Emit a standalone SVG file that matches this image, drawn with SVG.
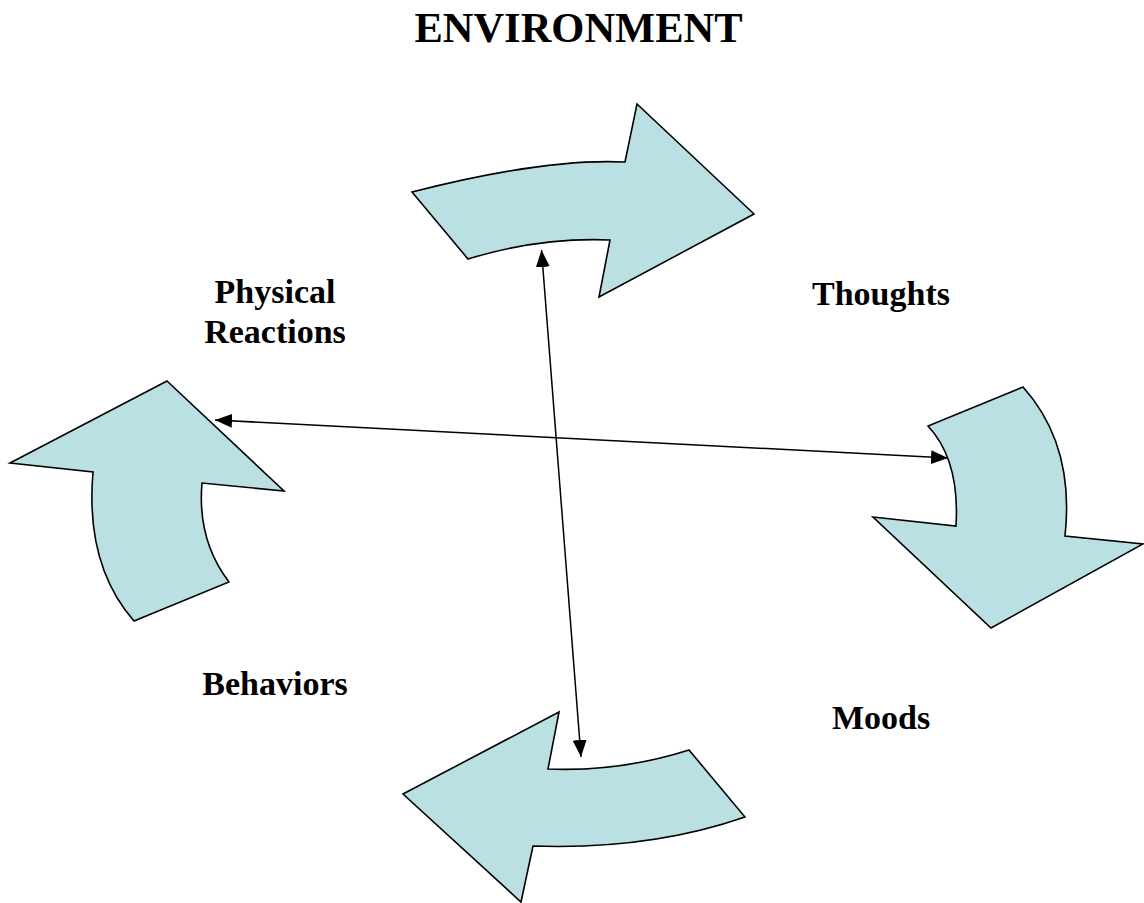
<svg xmlns="http://www.w3.org/2000/svg" width="1144" height="903" viewBox="0 0 1144 903">
<style>
.shape{fill:#BAE0E3;stroke:#000;stroke-width:1.6;stroke-linejoin:miter}
.lbl{font-family:"Liberation Serif","Times New Roman",serif;font-weight:bold;font-size:34px;fill:#000;text-anchor:middle}
.title{font-size:42.5px}
.conn{stroke:#000;stroke-width:1.5;fill:none}
</style>
<defs>
<marker id="ah2" viewBox="0 0 17 14" refX="17" refY="7" markerWidth="17" markerHeight="14" markerUnits="userSpaceOnUse" orient="auto-start-reverse">
<path d="M0,0 L17,7 L0,14 Z" fill="#000"/>
</marker>
</defs>
<rect width="1144" height="903" fill="#fff"/>
<text id="title" class="lbl title" x="578.5" y="42">ENVIRONMENT</text>
<g id="arrow-top"><path class="shape" d="M412,192 Q545,158 625,162 L637,104 L754,214 L599,297 L610,240 Q540,237 468,259 Z"/></g>
<g id="arrow-right"><path class="shape" d="M1023,387 Q1075,445 1065,536 L1143,544 L991,628 L873,517 L956,526 Q960,460 928,426 Z"/></g>
<g id="arrow-bottom"><path class="shape" d="M559,712 L548,769 Q620,772 689,750 L745,817 Q650,850 533,846 L521,902 L403,794 Z"/></g>
<g id="arrow-left"><path class="shape" d="M167,381 L284,491 L202,483 Q197,540 229,582 L134,621 Q85,565 93,472 L10,463 Z"/></g>
<g id="label-physical"><text class="lbl" x="275" y="303">Physical</text><text class="lbl" x="275" y="343">Reactions</text></g>
<g id="label-thoughts"><text class="lbl" x="881" y="305">Thoughts</text></g>
<g id="label-behaviors"><text class="lbl" x="275" y="695">Behaviors</text></g>
<g id="label-moods"><text class="lbl" x="881" y="729">Moods</text></g>
<g id="connectors">
<line class="conn" x1="541.5" y1="250" x2="581" y2="757" marker-start="url(#ah2)" marker-end="url(#ah2)"/>
<line class="conn" x1="215" y1="420" x2="948" y2="458" marker-start="url(#ah2)" marker-end="url(#ah2)"/>
</g>
</svg>
